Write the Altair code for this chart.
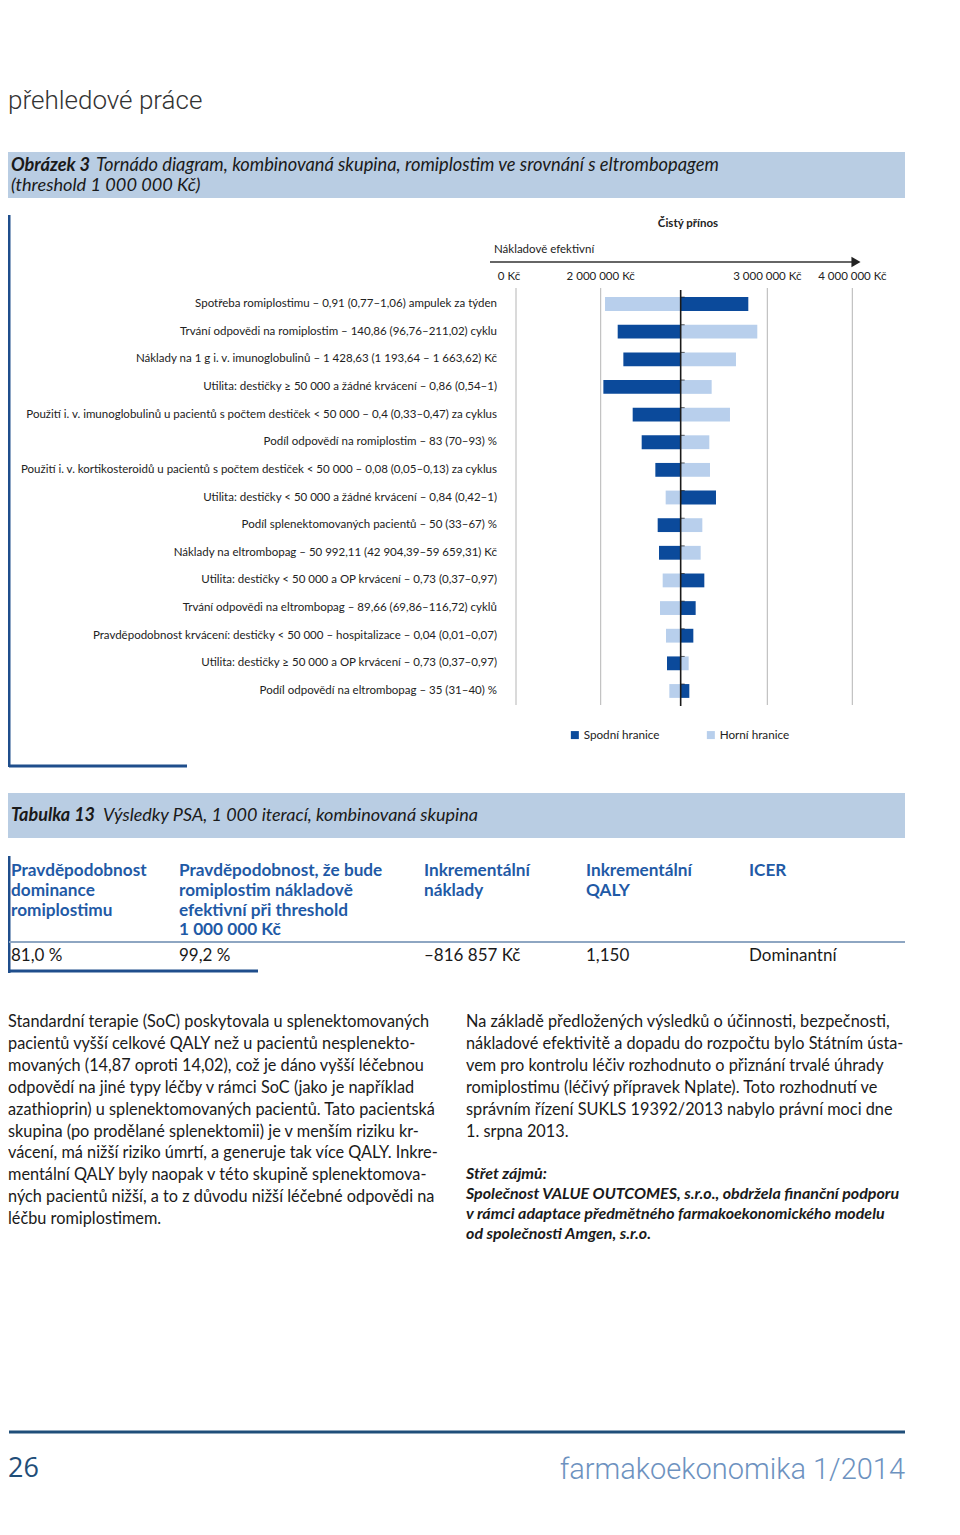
import altair as alt
import pandas as pd

# ---------------- data ----------------
params = [
    "Spotřeba romiplostimu – 0,91 (0,77–1,06) ampulek za týden",
    "Trvání odpovědi na romiplostim – 140,86 (96,76–211,02) cyklu",
    "Náklady na 1 g i. v. imunoglobulinů – 1 428,63 (1 193,64 – 1 663,62) Kč",
    "Utilita: destičky ≥ 50 000 a žádné krvácení – 0,86 (0,54–1)",
    "Použití i. v. imunoglobulinů u pacientů s počtem destiček < 50 000 – 0,4 (0,33–0,47) za cyklus",
    "Podíl odpovědí na romiplostim – 83 (70–93) %",
    "Použití i. v. kortikosteroidů u pacientů s počtem destiček < 50 000 – 0,08 (0,05–0,13) za cyklus",
    "Utilita: destičky < 50 000 a žádné krvácení – 0,84 (0,42–1)",
    "Podíl splenektomovaných pacientů – 50 (33–67) %",
    "Náklady na eltrombopag – 50 992,11 (42 904,39–59 659,31) Kč",
    "Utilita: destičky < 50 000 a OP krvácení – 0,73 (0,37–0,97)",
    "Trvání odpovědi na eltrombopag – 89,66 (69,86–116,72) cyklů",
    "Pravděpodobnost krvácení: destičky < 50 000 – hospitalizace – 0,04 (0,01–0,07)",
    "Utilita: destičky ≥ 50 000 a OP krvácení – 0,73 (0,37–0,97)",
    "Podíl odpovědí na eltrombopag – 35 (31–40) %",
]
spodni = [2886000, 2102000, 2136000, 2016000, 2192000, 2246000, 2328000, 2692000,
          2342000, 2350000, 2622000, 2570000, 2556000, 2398000, 2532000]
horni = [2026000, 2940000, 2812000, 2666000, 2776000, 2652000, 2656000, 2390000,
         2610000, 2600000, 2372000, 2356000, 2392000, 2528000, 2412000]
base_value = 2480000
bound_names = ["Spodní hranice", "Horní hranice"]
tick_values = [0, 2000000, 3000000, 4000000]
tick_labels = ["0 Kč", "2 000 000 Kč", "3 000 000 Kč", "4 000 000 Kč"]

table_headers = [
    ["Pravděpodobnost", "dominance", "romiplostimu"],
    ["Pravděpodobnost, že bude", "romiplostim nákladově", "efektivní při threshold", "1 000 000 Kč"],
    ["Inkrementální", "náklady"],
    ["Inkrementální", "QALY"],
    ["ICER"],
]
table_values = ["81,0 %", "99,2 %", "–816 857 Kč", "1,150", "Dominantní"]

left_par = [
    "Standardní terapie (SoC) poskytovala u splenektomovaných",
    "pacientů vyšší celkové QALY než u pacientů nesplenekto-",
    "movaných (14,87 oproti 14,02), což je dáno vyšší léčebnou",
    "odpovědí na jiné typy léčby v rámci SoC (jako je například",
    "azathioprin) u splenektomovaných pacientů. Tato pacientská",
    "skupina (po prodělané splenektomii) je v menším riziku kr-",
    "vácení, má nižší riziko úmrtí, a generuje tak více QALY. Inkre-",
    "mentální QALY byly naopak v této skupině splenektomova-",
    "ných pacientů nižší, a to z důvodu nižší léčebné odpovědi na",
    "léčbu romiplostimem.",
]
right_par = [
    "Na základě předložených výsledků o účinnosti, bezpečnosti,",
    "nákladové efektivitě a dopadu do rozpočtu bylo Státním ústa-",
    "vem pro kontrolu léčiv rozhodnuto o přiznání trvalé úhrady",
    "romiplostimu (léčivý přípravek Nplate). Toto rozhodnutí ve",
    "správním řízení SUKLS 19392/2013 nabylo právní moci dne",
    "1. srpna 2013.",
]
conflict = [
    "Střet zájmů:",
    "Společnost VALUE OUTCOMES, s.r.o., obdržela finanční podporu",
    "v rámci adaptace předmětného farmakoekonomického modelu",
    "od společnosti Amgen, s.r.o.",
]

# ---------------- styles ----------------
DARK = "#0b4a9b"
LIGHT = "#b8cfec"
BOX = "#b9cde3"
FRAME = "#1f4e8c"
HEAD_BLUE = "#1f5aa6"
FONT = "Lato"
O = 8  # page margin

one = pd.DataFrame({"k": [0]})

bars_df = pd.DataFrame({
    "param": params * 2,
    "bound": [bound_names[0]] * len(params) + [bound_names[1]] * len(params),
    "value": spodni + horni,
    "base": [base_value] * (2 * len(params)),
})
base_df = pd.DataFrame({"param": params, "base": [base_value] * len(params)})
ticks_df = pd.DataFrame({"value": tick_values, "label": tick_labels})

xscale = alt.Scale(domain=tick_values, range=[516 - O, 600.7 - O, 767.3 - O, 852.3 - O],
                   nice=False, zero=False)
yscale = alt.Scale(domain=params, range=[290.2 - O, 704.8 - O], paddingInner=0.5, paddingOuter=0.25)


def txt(s, x, y, size=11, color="#222222", font=FONT, weight="normal", style="normal",
        align="left", baseline="middle", lh=None):
    kw = dict(text=s, fontSize=size, color=color, font=font, fontWeight=weight,
              fontStyle=style, align=align, baseline=baseline)
    if lh is not None:
        kw["lineHeight"] = lh
    return alt.Chart(one).mark_text(**kw).encode(x=alt.value(max(x - O, 0)), y=alt.value(y - O))


def rect(x1, x2, y1, y2, color):
    return alt.Chart(one).mark_rect(color=color).encode(
        x=alt.value(max(x1 - O, 0)), x2=alt.value(x2 - O), y=alt.value(y1 - O), y2=alt.value(y2 - O))


def rule(x1, x2, y1, y2, color, w):
    return alt.Chart(one).mark_rule(color=color, strokeWidth=w).encode(
        x=alt.value(max(x1 - O, 1)), x2=alt.value(max(x2 - O, 1)), y=alt.value(y1 - O), y2=alt.value(y2 - O))


# gridlines at tick values
grid = alt.Chart(ticks_df).mark_rule(color="#b5b5b5", strokeWidth=1).encode(
    x=alt.X("value:Q", scale=xscale, axis=None),
    y=alt.value(288 - O), y2=alt.value(705 - O),
)

bars = alt.Chart(bars_df).mark_bar().encode(
    x=alt.X("value:Q", scale=xscale, axis=None),
    x2="base:Q",
    y=alt.Y("param:N", scale=yscale, axis=None, sort=None),
    color=alt.Color("bound:N", scale=alt.Scale(domain=bound_names, range=[DARK, LIGHT]),
                    legend=alt.Legend(orient="none", legendX=569 - O, legendY=729 - O,
                                      direction="horizontal", title=None, symbolType="square",
                                      symbolSize=64, symbolStrokeWidth=0, labelFont=FONT,
                                      labelFontSize=11.7, labelColor="#222222", labelOffset=3,
                                      columnPadding=45, padding=0)),
)

tick_text = alt.Chart(ticks_df).transform_filter("datum.value > 0").mark_text(
    font=FONT, fontSize=11.5, color="#222222", baseline="middle", align="center").encode(
    x=alt.X("value:Q", scale=xscale, axis=None),
    y=alt.value(277 - O),
    text="label:N",
)
tick_text0 = alt.Chart(ticks_df).transform_filter("datum.value == 0").mark_text(
    font=FONT, fontSize=11.5, color="#222222", baseline="middle", align="center", dx=-7).encode(
    x=alt.X("value:Q", scale=xscale, axis=None),
    y=alt.value(277 - O),
    text="label:N",
)

center = alt.Chart(one.assign(base=base_value)).mark_rule(color="#1a1a1a", strokeWidth=1.6).encode(
    x=alt.X("base:Q", scale=xscale, axis=None),
    y=alt.value(290 - O), y2=alt.value(706 - O),
)
mini = alt.Chart(base_df).mark_tick(color="#1a1a1a", thickness=1, size=4, orient="horizontal").encode(
    x=alt.X("base:Q", scale=xscale, axis=None),
    y=alt.Y("param:N", scale=yscale, axis=None, sort=None, bandPosition=0),
    xOffset=alt.value(2),
)

labels = alt.Chart(base_df).mark_text(font=FONT, fontSize=11.5, color="#222222", align="right",
                                      baseline="middle").encode(
    x=alt.value(497 - O),
    y=alt.Y("param:N", scale=yscale, axis=None, sort=None),
    text="param:N",
)

layers = [grid, bars, tick_text, tick_text0, center, mini, labels]

# arrow
layers.append(rule(490, 852, 262, 262, "#333333", 1.5))
layers.append(alt.Chart(one).mark_point(shape="triangle-right", filled=True, size=110,
                                        color="#222222", opacity=1).encode(
    x=alt.value(856 - O), y=alt.value(262 - O)))
layers.append(txt("Nákladově efektivní", 494, 250, size=11.5))
layers.append(txt("Čistý přínos", 688, 224, size=11.5, weight="bold", align="center"))

# page header
layers.append(txt("přehledové práce", 0, 101, size=26, color="#333333", font="Roboto", weight=300))

# figure caption box
layers.append(rect(2, 905, 152, 198, BOX))
layers.append(txt("Obrázek 3", 11, 166, size=18.2, weight="bold", style="italic", color="#1a1a1a"))
layers.append(txt("Tornádo diagram, kombinovaná skupina, romiplostim ve srovnání s eltrombopagem",
                  96, 166, size=18.3, style="italic", color="#1a1a1a"))
layers.append(txt("(threshold 1 000 000 Kč)", 11, 186, size=18.2, style="italic", color="#1a1a1a"))

# figure frame
layers.append(rule(3, 3, 215, 767, FRAME, 3))
layers.append(rule(3, 187, 766, 766, FRAME, 3))

# table title box
layers.append(rect(2, 905, 793, 838, BOX))
layers.append(txt("Tabulka 13", 11, 816, size=18, weight="bold", style="italic", color="#1a1a1a"))
layers.append(txt("Výsledky PSA, 1 000 iterací, kombinovaná skupina", 103, 816, size=18,
                  style="italic", color="#1a1a1a"))

# table
col_x = [11, 179, 424, 586, 749]
for cx, hdr, val in zip(col_x, table_headers, table_values):
    layers.append(txt(hdr, cx, 862, size=17.2, weight="bold", color=HEAD_BLUE, baseline="top", lh=19.8))
    layers.append(txt(val, cx, 956, size=17, color="#1a1a1a"))
layers.append(rule(3, 3, 856, 973, FRAME, 3))
layers.append(rule(3, 905, 942, 942, "#8ea6c2", 2))
layers.append(rule(3, 258, 971, 971, FRAME, 3))

# body text
layers.append(txt(left_par, 0, 1022, size=16.3, color="#1a1a1a", lh=21.9))
layers.append(txt(right_par, 466, 1022, size=16.3, color="#1a1a1a", lh=22))
layers.append(txt(conflict, 466, 1174, size=16.0, color="#1a1a1a", weight="bold",
                  style="italic", lh=20))

# footer
layers.append(rule(0, 905, 1432, 1432, "#1f4e79", 3))
layers.append(txt("26", 2, 1469, size=27, color="#1f4e79", font="Open Sans"))
layers.append(txt("farmakoekonomika 1/2014", 905, 1470, size=29, color="#6d92bf", font="Roboto",
                  weight=300, align="right"))

chart = alt.layer(*layers).properties(
    width=944, height=1515, autosize=alt.AutoSizeParams(type="none"), padding=0,
    background="white"
).configure_view(stroke=None)

chart.save("out.html", embed_options={"renderer": "svg", "actions": False})
